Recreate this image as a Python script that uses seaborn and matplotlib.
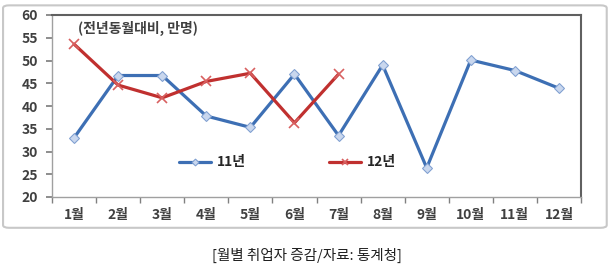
import matplotlib
matplotlib.use("Agg")
import matplotlib.pyplot as plt
import seaborn as sns
import pandas as pd
import numpy as np
from matplotlib.patches import FancyBboxPatch

months = ["1월", "2월", "3월", "4월", "5월", "6월", "7월", "8월", "9월", "10월", "11월", "12월"]
y2011 = [33.0, 46.7, 46.7, 37.8, 35.3, 47.0, 33.5, 49.0, 26.4, 50.1, 47.8, 43.9]
y2012 = [53.6, 44.6, 41.8, 45.4, 47.2, 36.3, 47.0]
series_names = ["11년", "12년"]
yticks = [20, 25, 30, 35, 40, 45, 50, 55, 60]

sns.set_theme(style="white")
plt.rcParams['font.family'] = ['Noto Sans CJK KR', 'DejaVu Sans']

df = pd.DataFrame({
    "month": months * 2,
    "x": list(range(12)) * 2,
    "value": y2011 + y2012 + [np.nan] * (12 - len(y2012)),
    "series": [series_names[0]] * 12 + [series_names[1]] * 12,
})

fig = plt.figure(figsize=(6.11, 2.68), dpi=100)
# outer frame
frame = FancyBboxPatch((0.005, 0.15), 0.988, 0.83, boxstyle="round,pad=0,rounding_size=0.01",
                       transform=fig.transFigure, facecolor="white", edgecolor="#c8c8c8", lw=1.5, zorder=-5)
fig.patches.append(frame)
ax = fig.add_axes([52/611, 1 - 197/268, (581-52)/611, (197-15)/268])
ax.set_zorder(1)
ax.patch.set_alpha(0)

blue = "#3d6fb4"
red = "#c0302f"
sns.lineplot(data=df[df.series == "11년"], x="x", y="value", ax=ax, color=blue, lw=2.3,
             marker="D", markersize=5, markerfacecolor="#c9d7ee", markeredgecolor="#7f9fd0",
             label="11년", legend=False)
sns.lineplot(data=df[df.series == "12년"].dropna(), x="x", y="value", ax=ax, color=red, lw=2.3,
             marker="x", markersize=7, markeredgecolor="#d86060", markeredgewidth=1.2,
             label="12년", legend=False)

ax.set_xlim(-0.5, 11.5)
ax.set_ylim(20, 60)
ax.set_yticks(yticks)
ax.set_yticklabels([str(t) for t in yticks], color="#404040", fontsize=10, fontweight="bold")
ax.set_xticks(range(12))
ax.set_xticklabels(months, color="#404040", fontsize=10, fontweight="bold")
ax.set_xticks(np.arange(-0.5, 12, 1), minor=True)
ax.tick_params(axis="x", which="major", length=0, pad=8)
ax.tick_params(axis="x", which="minor", length=4, color="#808080", direction="out", bottom=True)
ax.tick_params(axis="y", length=4, color="#808080", direction="out", left=True, pad=6)
ax.set_xlabel("")
ax.set_ylabel("")
for s in ax.spines.values():
    s.set_color("#606060")
    s.set_linewidth(1.5)
ax.spines["left"].set_color("#a0a0a0")
ax.spines["bottom"].set_color("#a0a0a0")
ax.spines["left"].set_linewidth(1)
ax.spines["bottom"].set_linewidth(1)

ax.text(0.1, 57.0, "(전년동월대비, 만명)", fontsize=10, fontweight="bold", color="#404040", va="center")

# legend
ax.legend(handles=ax.get_lines()[:2], labels=series_names, ncol=2, frameon=False,
          loc="center", bbox_to_anchor=(0.445, 0.19), handlelength=2.3, handletextpad=0.4,
          columnspacing=6.0, markerscale=0.7,
          prop={"weight": "bold", "size": 10, "family": ["Noto Sans CJK KR", "DejaVu Sans"]})

fig.text(0.503, 1 - 255/268, "[월별 취업자 증감/자료: 통계청]", ha="center", va="center", fontsize=10.5, color="#202020")

fig.savefig("out.png", dpi=100)
